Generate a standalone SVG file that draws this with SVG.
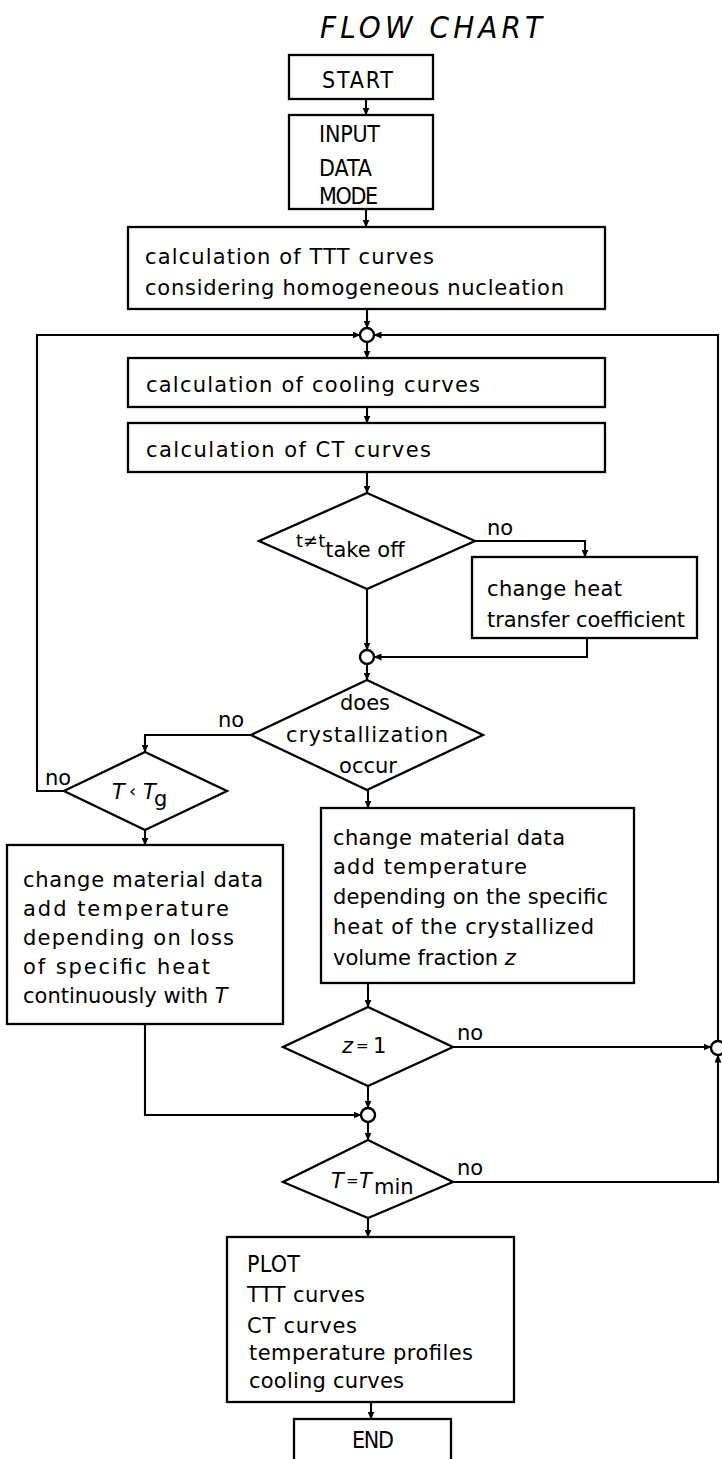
<svg xmlns="http://www.w3.org/2000/svg" width="722" height="1459" viewBox="0 0 722 1459">
  <style>
    .box { fill: #fff; stroke: #000; stroke-width: 2.3; }
    .jn { fill: #fff; stroke: #000; stroke-width: 2.4; }
    .arr { fill: none; stroke: #000; stroke-width: 2.1; marker-end: url(#ah); }
    text { font-family: "DejaVu Sans", "Liberation Sans", sans-serif; font-size: 21px; fill: #000; }
    .cap { font-family: "DejaVu Sans Condensed", "DejaVu Sans", sans-serif; font-size: 23px; }
    .it { font-style: italic; }
    .title { font-family: "DejaVu Sans Condensed", "DejaVu Sans", sans-serif; font-size: 31px; font-style: italic; }
    .sm { font-size: 18px; }
    .op { font-size: 15px; }
  </style>
  <defs>
    <marker id="ah" markerWidth="8" markerHeight="7" refX="7.5" refY="3.5" orient="auto" markerUnits="userSpaceOnUse">
      <path d="M0,0 L8,3.5 L0,7 z" fill="#000"/>
    </marker>
  </defs>
  <rect width="722" height="1459" fill="#fff"/>

  <text class="title" x="320" y="38" textLength="222">FLOW  CHART</text>

  <!-- connectors -->
  <g id="connectors">
    <path class="arr" d="M366,99 V115"/>
    <path class="arr" d="M366,209 V227"/>
    <path class="arr" d="M367,309 V328"/>
    <path class="arr" d="M367,342 V358"/>
    <path class="arr" d="M367,407 V423"/>
    <path class="arr" d="M367,472 V493"/>
    <path class="arr" d="M475,541 H585 V557"/>
    <path class="arr" d="M367,589 V650"/>
    <path class="arr" d="M587,638 V657 H374"/>
    <path class="arr" d="M367,664 V680"/>
    <path class="arr" d="M251,735 H145 V752"/>
    <path class="arr" d="M64,791 H37 V335 H360"/>
    <path class="arr" d="M368,790 V808"/>
    <path class="arr" d="M145,830 V845"/>
    <path class="arr" d="M368,983 V1007"/>
    <path class="arr" d="M453,1047 H711"/>
    <path class="arr" d="M145,1024 V1115 H361"/>
    <path class="arr" d="M368,1086 V1108"/>
    <path class="arr" d="M368,1122 V1140"/>
    <path class="arr" d="M453,1182 H718 V1055"/>
    <path class="arr" d="M718,1041 V335 H374"/>
    <path class="arr" d="M368,1218 V1237"/>
    <path class="arr" d="M371,1402 V1419"/>
  </g>

  <!-- junction points -->
  <g id="junction1"><circle class="jn" cx="367" cy="335" r="7"/></g>
  <g id="junction2"><circle class="jn" cx="367" cy="657" r="7"/></g>
  <g id="junction3"><circle class="jn" cx="718" cy="1048" r="7"/></g>
  <g id="junction4"><circle class="jn" cx="368" cy="1115" r="7"/></g>

  <g id="start">
    <rect class="box" x="289" y="55" width="144" height="44"/>
    <text class="cap" x="322" y="88" textLength="71">START</text>
  </g>

  <g id="input">
    <rect class="box" x="289" y="115" width="144" height="94"/>
    <text class="cap" x="319" y="142" textLength="61">INPUT</text>
    <text class="cap" x="319" y="176" textLength="53">DATA</text>
    <text class="cap" x="319" y="204" textLength="59">MODE</text>
  </g>

  <g id="ttt">
    <rect class="box" x="128" y="227" width="477" height="82"/>
    <text x="145" y="264" textLength="289">calculation of TTT curves</text>
    <text x="145" y="295" textLength="419">considering homogeneous nucleation</text>
  </g>

  <g id="cooling">
    <rect class="box" x="128" y="358" width="477" height="49"/>
    <text x="146" y="392" textLength="334">calculation of cooling curves</text>
  </g>

  <g id="ct">
    <rect class="box" x="128" y="423" width="477" height="49"/>
    <text x="146" y="457" textLength="285">calculation of CT curves</text>
  </g>

  <g id="takeoff">
    <polygon class="box" points="367,493 475,541 367,589 259,541"/>
    <text x="296" y="547"><tspan class="sm">t≠t</tspan><tspan y="557">take off</tspan></text>
    <text x="487" y="535">no</text>
  </g>

  <g id="heat-transfer">
    <rect class="box" x="472" y="557" width="225" height="81"/>
    <text x="487" y="596" textLength="135">change heat</text>
    <text x="487" y="627" textLength="198">transfer coefficient</text>
  </g>

  <g id="crystallization">
    <polygon class="box" points="367,680 483,735 367,790 251,735"/>
    <text x="365" y="710" text-anchor="middle">does</text>
    <text x="367" y="742" text-anchor="middle" textLength="162">crystallization</text>
    <text x="368" y="773" text-anchor="middle">occur</text>
    <text x="218" y="727">no</text>
  </g>

  <g id="glass">
    <polygon class="box" points="145,752 227,791 145,830 64,791"/>
    <text x="112" y="799"><tspan class="it">T</tspan><tspan class="sm" x="129" y="797">‹</tspan><tspan class="it" x="143" y="799">T</tspan><tspan x="154" y="806">g</tspan></text>
    <text x="45" y="785">no</text>
  </g>

  <g id="glass-update">
    <rect class="box" x="7" y="845" width="276" height="179"/>
    <text x="23" y="887" textLength="240">change material data</text>
    <text x="23" y="916" textLength="206">add temperature</text>
    <text x="23" y="945" textLength="211">depending on loss</text>
    <text x="23" y="974" textLength="187">of specific heat</text>
    <text x="23" y="1003">continuously with <tspan class="it">T</tspan></text>
  </g>

  <g id="crystal-update">
    <rect class="box" x="321" y="808" width="313" height="175"/>
    <text x="333" y="845" textLength="232">change material data</text>
    <text x="333" y="874" textLength="194">add temperature</text>
    <text x="333" y="904" textLength="275">depending on the specific</text>
    <text x="333" y="934" textLength="261">heat of the crystallized</text>
    <text x="333" y="965">volume fraction <tspan class="it">z</tspan></text>
  </g>

  <g id="complete">
    <polygon class="box" points="368,1007 453,1047 368,1086 283,1047"/>
    <text x="342" y="1053"><tspan class="it">z</tspan><tspan class="op" x="356" y="1051">=</tspan><tspan x="373" y="1053">1</tspan></text>
    <text x="457" y="1040">no</text>
  </g>

  <g id="tmin">
    <polygon class="box" points="368,1140 453,1182 368,1218 283,1182"/>
    <text x="331" y="1188"><tspan class="it">T</tspan><tspan class="op" x="346" y="1186">=</tspan><tspan class="it" x="359" y="1188">T</tspan><tspan x="374" y="1194">min</tspan></text>
    <text x="457" y="1175">no</text>
  </g>

  <g id="plot">
    <rect class="box" x="227" y="1237" width="287" height="165"/>
    <text class="cap" x="247" y="1272" textLength="53">PLOT</text>
    <text x="247" y="1302" textLength="118">TTT curves</text>
    <text x="247" y="1333" textLength="110">CT curves</text>
    <text x="249" y="1360" textLength="224">temperature profiles</text>
    <text x="249" y="1388" textLength="155">cooling curves</text>
  </g>

  <g id="end">
    <rect class="box" x="294" y="1419" width="157" height="50"/>
    <text class="cap" x="352" y="1448" textLength="42">END</text>
  </g>
</svg>
